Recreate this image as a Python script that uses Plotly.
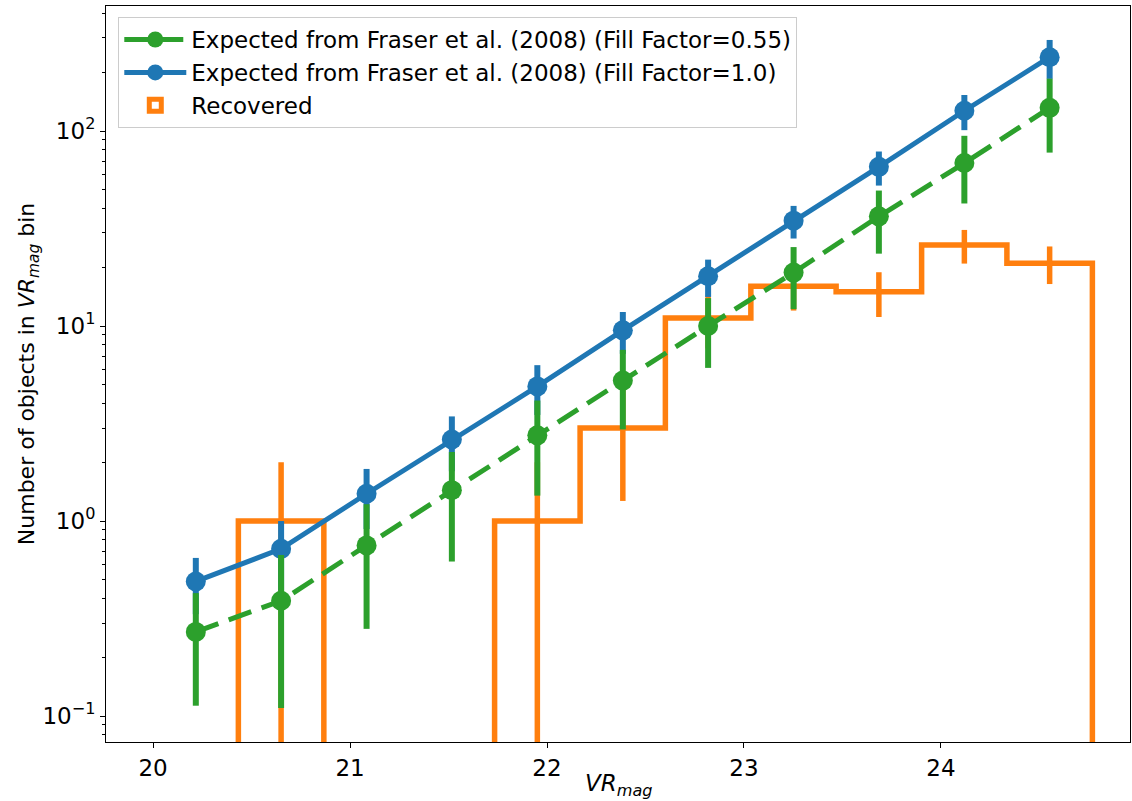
import plotly.graph_objects as go

# ---- data ----
mag_centers = [20.217, 20.650, 21.084, 21.517, 21.951, 22.385, 22.818, 23.252, 23.685, 24.119, 24.552]
bin_edges = [20.000, 20.433, 20.867, 21.300, 21.734, 22.168, 22.601, 23.035, 23.468, 23.902, 24.335, 24.769]
expected_ff10 = [0.49, 0.72, 1.38, 2.62, 4.9, 9.5, 18.0, 34.7, 65.5, 127, 239]
expected_ff055 = [0.27, 0.39, 0.75, 1.44, 2.75, 5.25, 10.0, 18.8, 36.5, 68.5, 131.5]
expected_err = [0.157, 0.28, 0.47, 0.82, 1.40, 2.30, 3.9, 6.6, 13.0, 26, 54]
recovered_counts = [0, 1, 0, 0, 1, 3, 11, 16, 15, 26, 21]
x_ticks = [20, 21, 22, 23, 24]
y_ticks = [0.1, 1, 10, 100]
y_ticktext = ["10<sup>−1</sup>", "10<sup>0</sup>", "10<sup>1</sup>", "10<sup>2</sup>"]

BLUE = "#1f77b4"
ORANGE = "#ff7f0e"
GREEN = "#2ca02c"
FONT = "DejaVu Sans"
FS = 23

fig = go.Figure()

# Recovered histogram drawn as a step outline (zero bins fall below the axis)
floor = 1e-3
hx, hy = [bin_edges[0]], [floor]
for i, c in enumerate(recovered_counts):
    v = c if c > 0 else floor
    hx += [bin_edges[i], bin_edges[i + 1]]
    hy += [v, v]
hx.append(bin_edges[-1])
hy.append(floor)
fig.add_trace(go.Scatter(x=hx, y=hy, mode="lines", line=dict(color=ORANGE, width=5.5),
                         showlegend=False, hoverinfo="skip"))

# Poisson error bars on recovered counts
rx = [x for x, c in zip(mag_centers, recovered_counts) if c > 0]
ry = [c for c in recovered_counts if c > 0]
re = [c ** 0.5 for c in ry]
fig.add_trace(go.Scatter(x=rx, y=ry, mode="markers", marker=dict(size=0.1, color=ORANGE),
                         error_y=dict(type="data", array=re, color=ORANGE, thickness=5.5, width=0),
                         showlegend=False, hoverinfo="skip"))

# legend entry for the histogram
fig.add_trace(go.Bar(x=[None], y=[None], name="Recovered",
                     marker=dict(color="rgba(255,255,255,0)", line=dict(color=ORANGE, width=5)),
                     legendrank=3))

fig.add_trace(go.Scatter(x=mag_centers, y=expected_ff10, mode="lines+markers",
                         name="Expected from Fraser et al. (2008) (Fill Factor=1.0)",
                         line=dict(color=BLUE, width=5), marker=dict(size=20, color=BLUE),
                         error_y=dict(type="data", array=expected_err, color=BLUE, thickness=6, width=0),
                         legendrank=2))

fig.add_trace(go.Scatter(x=mag_centers, y=expected_ff055, mode="lines+markers",
                         name="Expected from Fraser et al. (2008) (Fill Factor=0.55)",
                         line=dict(color=GREEN, width=5, dash="24px,11px"), marker=dict(size=20, color=GREEN),
                         error_y=dict(type="data", array=expected_err, color=GREEN, thickness=6, width=0),
                         legendrank=1))

minor_vals = [m * 10.0 ** d for d in range(-2, 3) for m in range(2, 10)]

fig.update_layout(
    width=1132, height=801,
    margin=dict(l=106, r=2, t=6, b=59, autoexpand=False),
    paper_bgcolor="white", plot_bgcolor="white",
    font=dict(family=FONT, size=FS, color="black"),
    showlegend=True,
    barmode="overlay",
    legend=dict(x=0.012, y=0.985, xanchor="left", yanchor="top",
                bgcolor="rgba(255,255,255,0.8)", bordercolor="#cccccc", borderwidth=1,
                font=dict(family=FONT, size=FS), itemwidth=62, traceorder="normal"),
    xaxis=dict(range=[19.761, 24.96], tickvals=x_ticks, automargin=False,
               ticks="outside", ticklen=5, tickcolor="black", tickwidth=1,
               showline=True, linecolor="black", linewidth=1, mirror=True,
               showgrid=False, zeroline=False, tickfont=dict(size=FS)),
    yaxis=dict(type="log", range=[-1.133, 2.641], automargin=False,
               tickvals=y_ticks, ticktext=y_ticktext,
               ticks="outside", ticklen=5, tickcolor="black", tickwidth=1,
               minor=dict(tickvals=minor_vals, ticks="outside", ticklen=3, tickcolor="black", showgrid=False),
               showline=True, linecolor="black", linewidth=1, mirror=True,
               showgrid=False, zeroline=False, tickfont=dict(size=FS)),
    annotations=[
        dict(text="<i>VR</i><sub><i>mag</i></sub>", xref="paper", yref="paper",
             x=0.5, y=-0.058, xanchor="center", yanchor="middle", showarrow=False,
             font=dict(size=FS)),
        dict(text="Number of objects in <i>VR</i><sub><i>mag</i></sub> bin", xref="paper", yref="paper",
             x=-0.076, y=0.5, xanchor="center", yanchor="middle", textangle=-90, showarrow=False,
             font=dict(size=FS - 1)),
    ],
)

fig.write_html("out.html", config={"displayModeBar": False},
               post_script="document.body.style.margin='0px';document.body.style.overflow='hidden';")
